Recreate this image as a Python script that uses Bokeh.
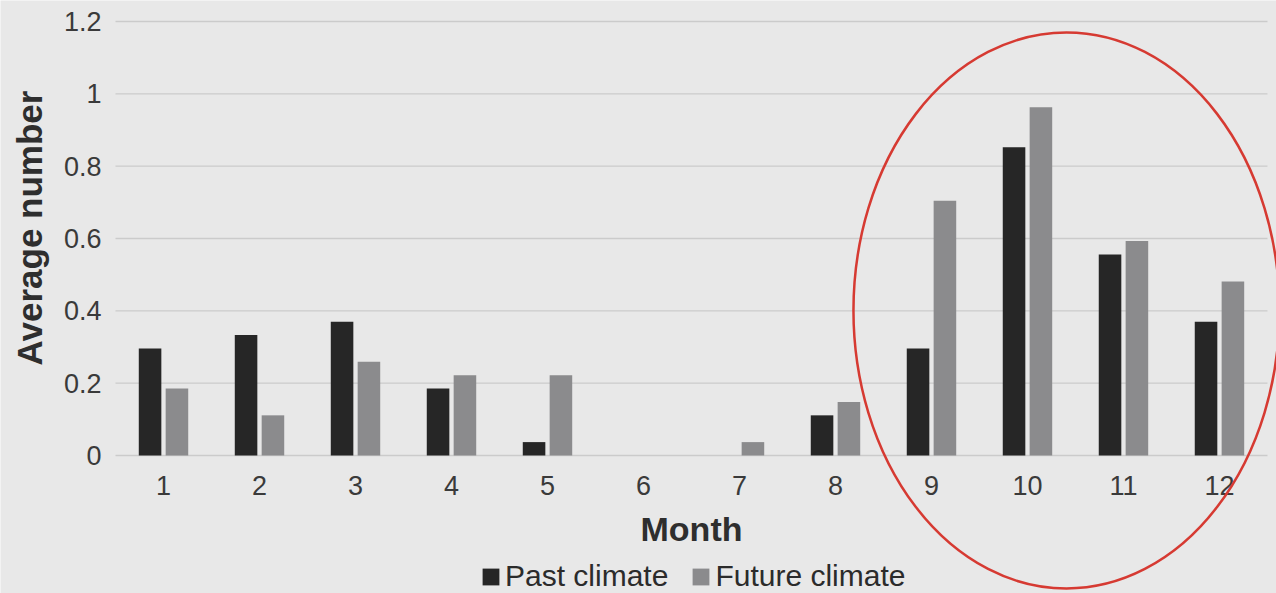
from bokeh.plotting import figure
from bokeh.models import Range1d, FixedTicker, Legend, LegendItem, ColumnDataSource
from bokeh.transform import dodge
from bokeh.embed import file_html
from bokeh.resources import INLINE

# ---- data ----
months = [1, 2, 3, 4, 5, 6, 7, 8, 9, 10, 11, 12]
month_labels = ["1", "2", "3", "4", "5", "6", "7", "8", "9", "10", "11", "12"]
past_climate = [0.296, 0.333, 0.370, 0.185, 0.037, 0.0, 0.0, 0.111, 0.296, 0.852, 0.556, 0.370]
future_climate = [0.185, 0.111, 0.259, 0.222, 0.222, 0.0, 0.037, 0.148, 0.704, 0.963, 0.593, 0.481]
y_ticks = [0, 0.2, 0.4, 0.6, 0.8, 1.0, 1.2]
y_tick_labels = ["0", "0.2", "0.4", "0.6", "0.8", "1", "1.2"]
series_names = ["Past climate", "Future climate"]
x_title = "Month"
y_title = "Average number"

FONT = "Liberation Sans"
BG = "#e8e8e8"

source = ColumnDataSource(dict(month=months, past=past_climate, future=future_climate))

p = figure(width=1276, height=593,
           x_range=Range1d(-0.698, 12.594), y_range=Range1d(-0.3816, 1.258),
           output_backend="svg", toolbar_location=None, min_border=0,
           background_fill_color=BG, border_fill_color=BG, outline_line_color=None)

p.xgrid.visible = False
p.ygrid.visible = False

# gridlines across the plot area only
p.segment(x0=0.5, x1=12.5, y0=y_ticks, y1=y_ticks, line_color="#cbcbcb", line_width=1.3)

r_past = p.vbar(x=dodge("month", -0.14), top="past", width=0.235, source=source,
                fill_color="#262626", line_color=None)
r_future = p.vbar(x=dodge("month", 0.14), top="future", width=0.235, source=source,
                  fill_color="#8b8b8d", line_color=None)

# axes
xa = p.xaxis[0]
xa.fixed_location = 0
xa.bounds = (0.5, 12.5)
xa.ticker = FixedTicker(ticks=months)
xa.major_label_overrides = {m: l for m, l in zip(months, month_labels)}
xa.axis_label = x_title
xa.major_label_standoff = 21
xa.axis_label_standoff = 11
xa.axis_label_text_font_size = "34px"

ya = p.yaxis[0]
ya.fixed_location = 0.5
ya.bounds = (0, 1.32)
ya.ticker = FixedTicker(ticks=y_ticks)
ya.major_label_overrides = {t: l for t, l in zip(y_ticks, y_tick_labels)}
ya.axis_label = y_title
ya.major_label_standoff = 14
ya.axis_label_standoff = 12
ya.axis_label_text_font_size = "35px"

for ax in (xa, ya):
    ax.axis_line_color = None
    ax.major_tick_line_color = None
    ax.minor_tick_line_color = None
    ax.major_tick_out = 0
    ax.major_tick_in = 0
    ax.major_label_text_font = FONT
    ax.major_label_text_font_size = "27px"
    ax.major_label_text_color = "#3a3a3a"
    ax.axis_label_text_font = FONT
    ax.axis_label_text_font_style = "bold"
    ax.axis_label_text_color = "#2e2e2e"

legend = Legend(items=[LegendItem(label=series_names[0], renderers=[r_past]),
                       LegendItem(label=series_names[1], renderers=[r_future])],
                orientation="horizontal", location=(480, 0),
                padding=0, margin=0, spacing=22, label_standoff=4,
                glyph_width=21, glyph_height=21,
                background_fill_alpha=0, border_line_color=None,
                label_text_font=FONT, label_text_font_size="30px",
                label_text_color="#2b2b2b")
p.add_layout(legend, "center")

# red highlight ellipse around months 9-12
p.ellipse(x=[10.406], y=[0.401], width=426, height=556,
          width_units="screen", height_units="screen",
          fill_color=None, line_color="#d63a32", line_width=2.5, level="overlay")

open("out.html", "w").write(file_html(p, INLINE))
